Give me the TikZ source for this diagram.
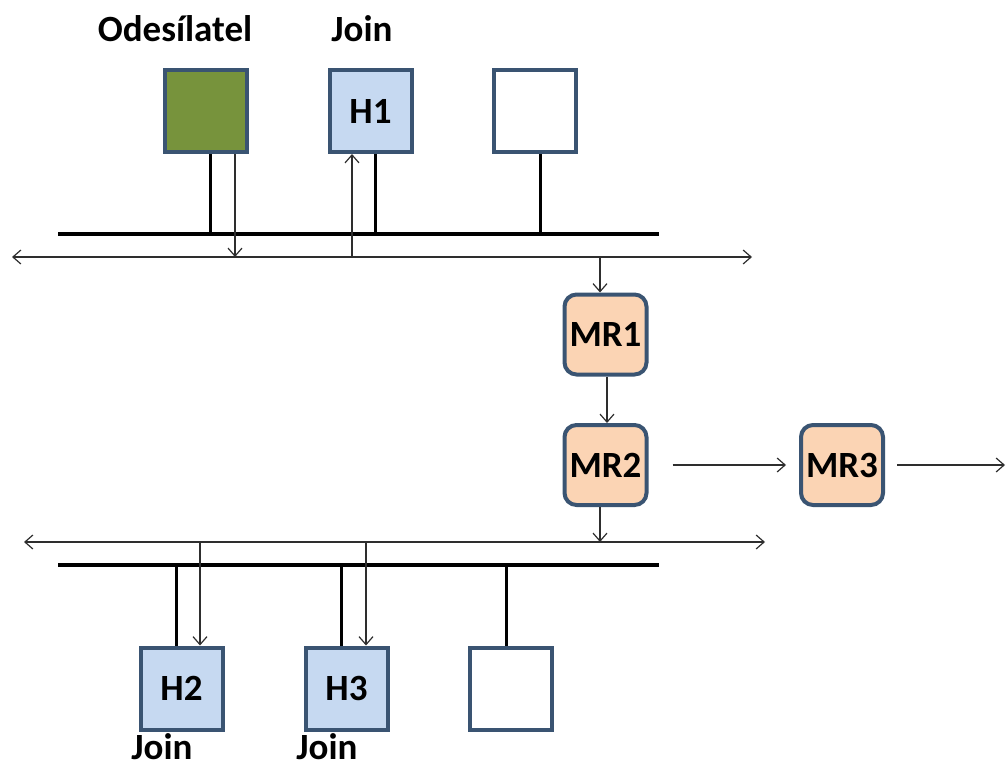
\documentclass[tikz,border=0pt]{standalone}
\usepackage{fontspec}
\setmainfont{Carlito}
\usetikzlibrary{arrows.meta}
\definecolor{edgeblue}{HTML}{3A5472}
\definecolor{hostgreen}{HTML}{77933C}
\definecolor{hostblue}{HTML}{C6D9F1}
\definecolor{routerpeach}{HTML}{FBD4B4}
\definecolor{wire}{HTML}{2E2E2E}
\begin{document}
\begin{tikzpicture}[x=1pt,y=-1pt,
  host/.style={draw=edgeblue,line width=4pt,minimum width=82pt,minimum height=82pt,
    inner sep=0pt,font=\fontsize{37}{44}\selectfont\bfseries},
  router/.style={host,rounded corners=12pt,fill=routerpeach,minimum height=80pt},
  label/.style={anchor=base,inner sep=0pt,font=\fontsize{37}{44}\selectfont\bfseries},
  bus/.style={line width=4pt,black},
  stub/.style={line width=3pt,black},
  flow/.style={line width=1.2pt,wire,-{Straight Barb[length=8pt,width=14pt,line width=1.2pt]}},
  flow2/.style={line width=1.2pt,wire,{Straight Barb[length=8pt,width=14pt,line width=1.2pt]}-{Straight Barb[length=8pt,width=14pt,line width=1.2pt]}}]
\useasboundingbox (0,0) rectangle (1008,771);

% upper segment: hosts
\node[host,fill=hostgreen] (src) at (205.5,111) {};
\node[host,fill=hostblue] (h1) at (370.5,111) {H1};
\node[host,fill=white] (t3) at (535,111) {};
\node[label] (lsrc) at (175,41) {Odesílatel};
\node[label] (lh1) at (362,41) {Join};

% upper segment: bus and multicast line
\coordinate (ubusL) at (58,234);
\coordinate (ubusR) at (659,234);
\coordinate (ulineL) at (12,257);
\coordinate (ulineR) at (752,257);
\draw[bus] (ubusL) -- (ubusR);
\draw[flow2] (ulineL) -- (ulineR);

\coordinate (usrcbus) at (210,234);
\coordinate (uh1bus) at (375,234);
\coordinate (ut3bus) at (540,234);
\draw[stub] (src.south -| usrcbus) -- (usrcbus);
\draw[stub] (h1.south -| uh1bus) -- (uh1bus);
\draw[stub] (t3.south -| ut3bus) -- (ut3bus);

\coordinate (usrcline) at (235,257);
\coordinate (uh1line) at (352,257);
\coordinate (umrline) at (600,257);
\draw[flow] (src.south -| usrcline) -- (usrcline);
\draw[flow] (uh1line) -- (h1.south -| uh1line);

% routers
\node[router] (mr1) at (605.5,334.5) {MR1};
\node[router] (mr2) at (605.5,465) {MR2};
\node[router] (mr3) at (842,465) {MR3};
\coordinate (mrout) at (1005,465);

\draw[flow] (umrline) -- (mr1.north -| umrline);
\draw[flow] ([xshift=1.5pt]mr1.south) -- ([xshift=1.5pt]mr2.north);
\draw[flow] ([xshift=24pt]mr2.east) -- ([xshift=-13pt]mr3.west);
\draw[flow] ([xshift=12pt]mr3.east) -- (mrout);

% lower segment: bus and multicast line
\coordinate (llineL) at (24,542);
\coordinate (llineR) at (765,542);
\coordinate (lbusL) at (58,565);
\coordinate (lbusR) at (659,565);
\draw[flow2] (llineL) -- (llineR);
\draw[bus] (lbusL) -- (lbusR);

\coordinate (lmrline) at (600,542);
\draw[flow] (mr2.south -| lmrline) -- (lmrline);

% lower segment: hosts
\node[host,fill=hostblue] (h2) at (181.5,688.5) {H2};
\node[host,fill=hostblue] (h3) at (346.5,688.5) {H3};
\node[host,fill=white] (b3) at (511,688.5) {};
\node[label] (lh2) at (162,759) {Join};
\node[label] (lh3) at (327,759) {Join};

\coordinate (lh2bus) at (176,565);
\coordinate (lh3bus) at (341,565);
\coordinate (lb3bus) at (506,565);
\draw[stub] (lh2bus) -- (h2.north -| lh2bus);
\draw[stub] (lh3bus) -- (h3.north -| lh3bus);
\draw[stub] (lb3bus) -- (b3.north -| lb3bus);

\coordinate (lh2line) at (200,542);
\coordinate (lh3line) at (366,542);
\draw[flow] (lh2line) -- (h2.north -| lh2line);
\draw[flow] (lh3line) -- (h3.north -| lh3line);
\end{tikzpicture}
\end{document}
